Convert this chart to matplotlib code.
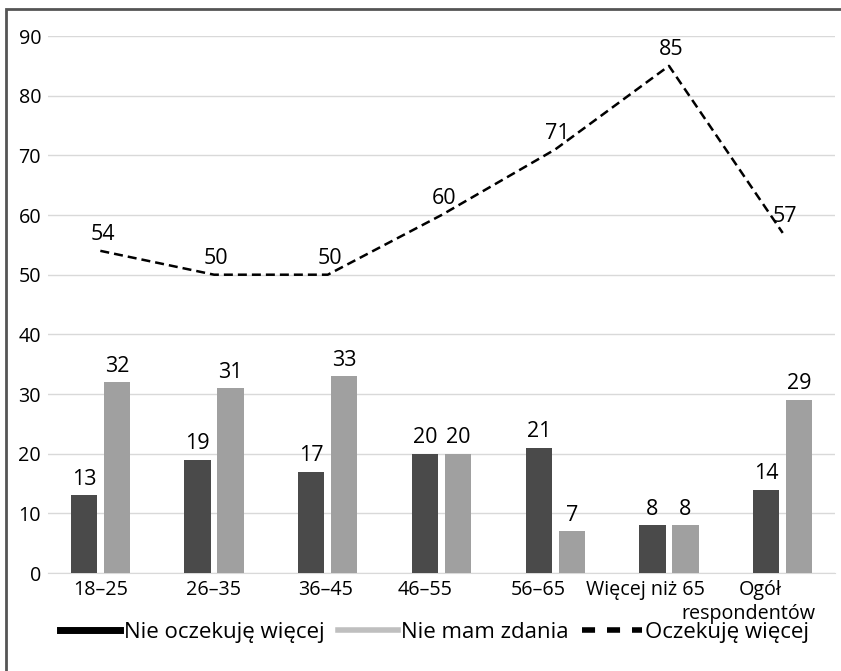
import matplotlib.pyplot as plt
from matplotlib.lines import Line2D
from matplotlib.patches import Rectangle
from matplotlib.transforms import ScaledTranslation
import numpy as np

# Survey answers by age group (%)
categories = ["18–25", "26–35", "36–45", "46–55", "56–65", "Więcej niż 65", "Ogół"]
last_label_2nd_line = "respondentów"
nie_oczekuje = [13, 19, 17, 20, 21, 8, 14]
nie_mam_zdania = [32, 31, 33, 20, 7, 8, 29]
oczekuje = [54, 50, 50, 60, 71, 85, 57]

dark = "#4a4a4a"
light = "#a0a0a0"
grid = "#d9d9d9"
fs_val = 15.5
fs_tick = 14.2
# horizontal nudge of each category label, in pixels
label_shift_px = [0, -1, -2, -16, -17, -24, -22]

plt.rcParams['font.family'] = ["Open Sans", "DejaVu Sans"]

fig = plt.figure(figsize=(8.41, 6.71), dpi=100)
ax = fig.add_axes([0.0571, 0.146, 0.9358, 0.8003])

x = np.arange(len(categories))
w = 0.23
off = 0.145

b1 = ax.bar(x - off, nie_oczekuje, w, color=dark, zorder=3)
b2 = ax.bar(x + off, nie_mam_zdania, w, color=light, zorder=3)
ax.plot(x, oczekuje, color="black", lw=1.8, linestyle=(0, (3.6, 2.0)), zorder=4)

for bars, vals in ((b1, nie_oczekuje), (b2, nie_mam_zdania)):
    for r, v in zip(bars, vals):
        ax.annotate(str(v), (r.get_x() + r.get_width() / 2, v), xytext=(0, 4),
                    textcoords="offset points", ha="center", va="bottom", fontsize=fs_val)

for xi, v in zip(x, oczekuje):
    ax.annotate(str(v), (xi, v), xytext=(1.5, 4), textcoords="offset points",
                ha="center", va="bottom", fontsize=fs_val, zorder=5)

ax.set_xlim(-0.46, 6.46)
ax.set_ylim(0, 90)
ax.set_yticks(range(0, 91, 10))
ax.set_xticks(x)
ax.set_xticklabels(categories)
ax.tick_params(axis="both", length=0, labelsize=fs_tick)
ax.tick_params(axis="x", pad=5)
ax.tick_params(axis="y", pad=5)
ax.yaxis.grid(True, color=grid, lw=1, zorder=0)
for s in ("top", "right", "left"):
    ax.spines[s].set_visible(False)
ax.spines["bottom"].set_color(grid)

for lbl, dx in zip(ax.get_xticklabels(), label_shift_px):
    lbl.set_transform(lbl.get_transform() + ScaledTranslation(dx / 100, 0, fig.dpi_scale_trans))

# second line of the last category label
ax.annotate(last_label_2nd_line, (x[-1], 0), xycoords=ax.get_xaxis_transform(),
            xytext=(-25, -22), textcoords="offset points", ha="center", va="top",
            fontsize=fs_tick, annotation_clip=False)

handles = [
    Line2D([], [], color="black", lw=5),
    Line2D([], [], color="#bfbfbf", lw=4),
    Line2D([], [], color="black", lw=4, linestyle=(0, (2.35, 2.15))),
]
labels = ["Nie oczekuję więcej", "Nie mam zdania", "Oczekuję więcej"]
fig.legend(handles, labels, loc="center", bbox_to_anchor=(0.517, 0.057), ncol=3,
           frameon=False, fontsize=16, handlelength=2.7, handletextpad=0.15,
           columnspacing=0.6)

# frame around the figure
fig.add_artist(Rectangle((0.0071, -0.1), 1.2, 1.0866, transform=fig.transFigure,
                         fill=False, edgecolor="#555555", lw=2, clip_on=False))

fig.savefig("out.png", dpi=100)
